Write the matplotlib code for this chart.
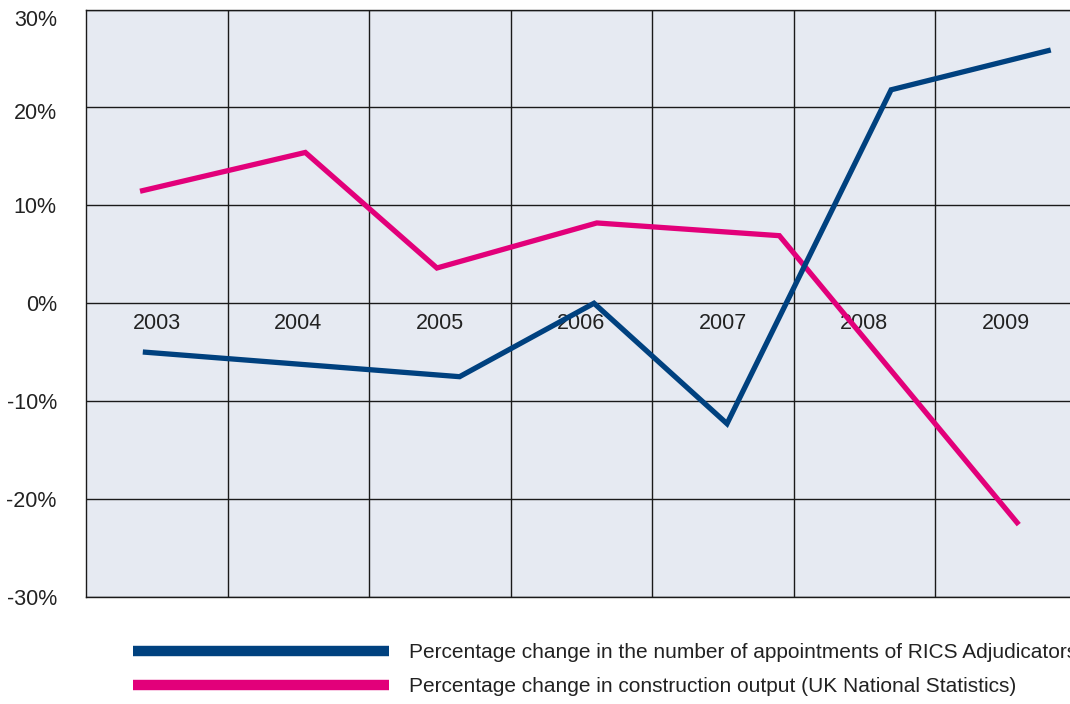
import matplotlib
matplotlib.use('Agg')
import matplotlib.pyplot as plt
import matplotlib.transforms as mtransforms
from matplotlib.lines import Line2D

plt.rcParams['font.family'] = ['Liberation Sans', 'DejaVu Sans']

# column layout: one column per year, label in the middle
years = ['2003', '2004', '2005', '2006', '2007', '2008', '2009']

# positions are in column units (0 = left edge of 2003 column)
rics_x = [0.42, 2.64, 3.59, 4.53, 5.69, 6.80]
rics_y = [-5.0, -7.5, 0.0, -12.3, 21.8, 25.8]

constr_x = [0.40, 1.55, 2.48, 3.61, 4.90, 6.58]
constr_y = [11.5, 15.4, 3.6, 8.2, 6.9, -22.4]

yticks = [-30, -20, -10, 0, 10, 20, 30]
ytick_labels = ['%d%%' % v for v in yticks]

labels = ['Percentage change in the number of appointments of RICS Adjudicators',
          'Percentage change in construction output (UK National Statistics)']

blue = '#00417f'
pink = '#e2007a'
txt = '#222222'

fig = plt.figure(figsize=(10.7, 7.04), dpi=100)
ax = fig.add_axes([86/1070, 107/704, 990.5/1070, 587.5/704])
ax.set_facecolor('#e6eaf2')

ax.set_xlim(0, 7)
ax.set_ylim(-30, 30)
ax.set_xticks(range(1, 7))
ax.set_xticklabels([])
ax.set_yticks(yticks)
ax.set_yticklabels(ytick_labels, fontsize=15.5, color=txt)
ax.tick_params(length=0, pad=21)
ax.tick_params(axis='x', pad=0)
ax.grid(True, color='#1a1a1a', linewidth=1.0, zorder=1)
ax.set_axisbelow(True)
for s in ax.spines.values():
    s.set_color('#1a1a1a')
    s.set_linewidth(1.0)

# nudge the top and upper labels down a little, as in the original
shifts = {'30%': -8, '20%': -4}
for lab in ax.get_yticklabels():
    d = shifts.get(lab.get_text(), 0)
    if d:
        lab.set_transform(lab.get_transform() +
                          mtransforms.ScaledTranslation(0, d/100, fig.dpi_scale_trans))

for i, yr in enumerate(years):
    ax.text(i + 0.5, -2.1, yr, ha='center', va='center', fontsize=15.5,
            color=txt, zorder=2)

ax.plot(rics_x, rics_y, color=blue, linewidth=3.8, zorder=4,
        solid_joinstyle='miter')
ax.plot(constr_x, constr_y, color=pink, linewidth=3.8, zorder=3,
        solid_joinstyle='miter')

handles = [Line2D([], [], color=blue, linewidth=7.5, solid_capstyle='butt'),
           Line2D([], [], color=pink, linewidth=7.5, solid_capstyle='butt')]
fig.legend(handles, labels, loc='upper left',
           bbox_to_anchor=(133/1070, 1 - 643/704), frameon=False,
           fontsize=15, handlelength=12.3, handletextpad=0.95,
           labelspacing=0.72, borderpad=0, borderaxespad=0,
           labelcolor=txt)

fig.savefig('out.png', dpi=100)
